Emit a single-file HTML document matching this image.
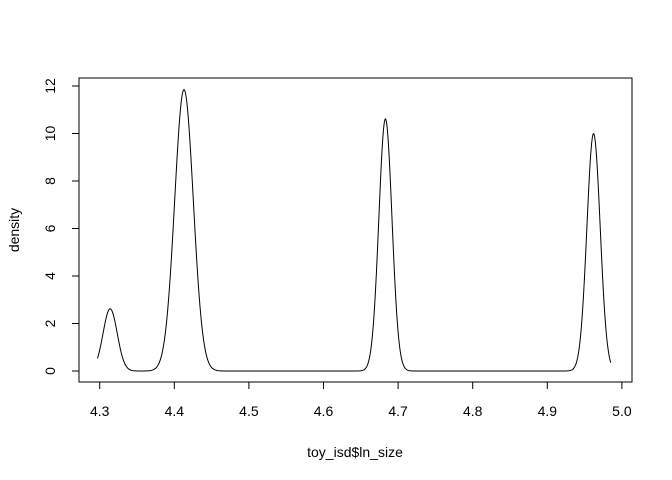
<!DOCTYPE html>
<html><head><meta charset="utf-8"><style>
body{margin:0;background:#fff}
svg{display:block;font-family:"Liberation Sans",Arial,sans-serif}
</style></head><body>
<svg id="chart" width="672" height="480">
<rect x="79" y="78" width="553" height="304" fill="none" stroke="#000" stroke-width="1"/>
<g id="xaxis"></g>
<g id="yaxis"></g>
<path id="curve" fill="none" stroke="#000" stroke-width="1"/>
<text x="355" y="457" text-anchor="middle" font-size="14">toy_isd$ln_size</text>
<text transform="translate(19,230) rotate(-90)" text-anchor="middle" font-size="14">density</text>
</svg>
<script>
const xTicks=[4.3,4.4,4.5,4.6,4.7,4.8,4.9,5.0];
const yTicks=[0,2,4,6,8,10,12];
const peakCenters=[4.314,4.413,4.683,4.962];
const peakHeights=[2.62,11.85,10.62,10.0];
const peakSds=[0.0095,0.0125,0.0088,0.0089];
const xRange=[4.297,4.985];
const NS="http://www.w3.org/2000/svg";
const sx=v=>99.7+(v-4.3)*746;
const sy=v=>371-v*23.75;
function mk(tag,attrs,parent){const e=document.createElementNS(NS,tag);for(const k in attrs)e.setAttribute(k,attrs[k]);parent.appendChild(e);return e;}
const xa=document.getElementById('xaxis');
mk('line',{x1:sx(xTicks[0]),x2:sx(xTicks[xTicks.length-1]),y1:382,y2:382,stroke:'#000'},xa);
xTicks.forEach(t=>{
  const l=mk('line',{x1:sx(t),x2:sx(t),y1:382,y2:389,stroke:'#000'},xa);
  
  
  const tx=mk('text',{x:sx(t),y:416,'text-anchor':'middle','font-size':14},xa);
  tx.textContent=t.toFixed(1);
  
  
});
const ya=document.getElementById('yaxis');
mk('line',{x1:79,x2:79,y1:sy(yTicks[0]),y2:sy(yTicks[yTicks.length-1]),stroke:'#000'},ya);
yTicks.forEach(t=>{
  const l=mk('line',{x1:72,x2:79,y1:sy(t),y2:sy(t),stroke:'#000'},ya);
  
  
  const tx=mk('text',{transform:`translate(55,${sy(t)}) rotate(-90)`,'text-anchor':'middle','font-size':14},ya);
  tx.textContent=t;
  
  
});
let d='';
const N=700;
for(let i=0;i<=N;i++){
  const v=xRange[0]+(xRange[1]-xRange[0])*i/N;
  let y=0;
  for(let k=0;k<peakCenters.length;k++){const z=(v-peakCenters[k])/peakSds[k];y+=peakHeights[k]*Math.exp(-z*z/2);}
  d+=(i?'L':'M')+sx(v).toFixed(2)+','+sy(y).toFixed(2);
}
document.getElementById('curve').setAttribute('d',d);
</script>
</body></html>
